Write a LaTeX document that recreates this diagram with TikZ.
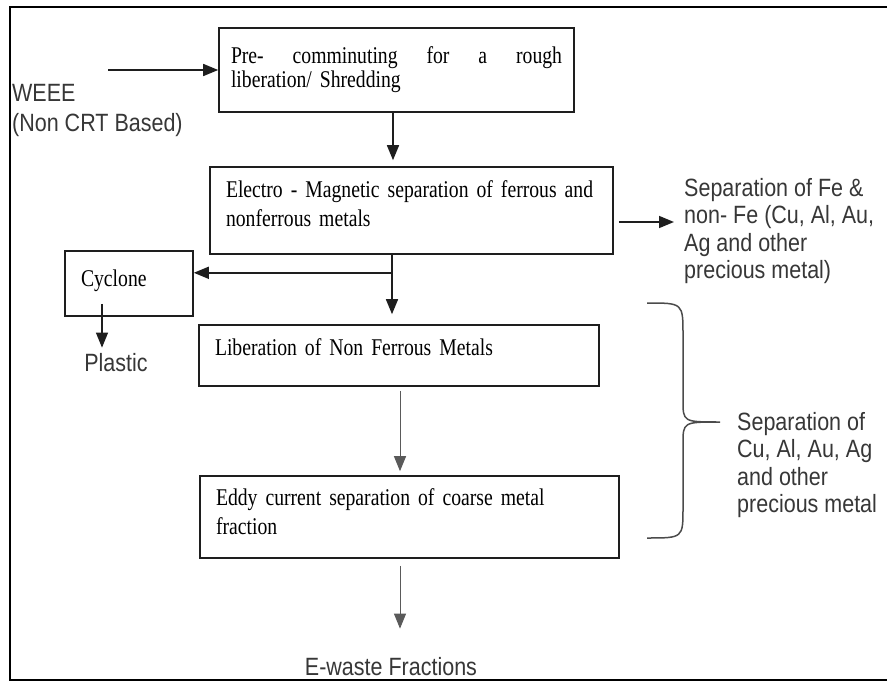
\documentclass[tikz,border=0pt]{standalone}
\usepackage{fontspec}
\setmainfont[FakeStretch=0.82]{Liberation Serif}
\setsansfont[FakeStretch=0.86]{Liberation Sans}
\usepackage{xcolor}
\definecolor{lineGray}{RGB}{30, 30, 30}
\definecolor{textGray}{RGB}{55, 55, 55}
\definecolor{thinGray}{RGB}{90, 90, 90}
\usetikzlibrary{arrows.meta, positioning, calc}
\tikzset{
    procBox/.style={draw=lineGray, line width=1.6pt, align=left, inner xsep=16pt, inner ysep=0pt, text=black,
        font=\rmfamily\fontsize{24}{29}\selectfont},
    sideText/.style={align=left, inner sep=0pt, text=textGray, font=\sffamily\fontsize{25}{27.5}\selectfont},
    arrow/.style={-{Triangle[length=15pt, width=12pt]}, line width=1.6pt, draw=lineGray},
    thinArrow/.style={arrow, line width=1pt, draw=thinGray},
    plainLine/.style={line width=1.6pt, draw=lineGray},
    braceLine/.style={line width=1.5pt, draw=lineGray!80}
}

\begin{document}
\begin{tikzpicture}[x=1pt, y=-1pt]

    \useasboundingbox (0,0) rectangle (887,682);
    \draw[line width=2pt, draw=black] (10,7) rectangle (895,680);

    % --- PROCESS BOXES ---
    \node[procBox, text width=331pt, inner xsep=12pt, minimum height=84pt,
          font=\rmfamily\fontsize{24}{24}\selectfont] (shred) at (396.5,70)
        {Pre-\hfill comminuting\hfill for\hfill a\hfill rough\\ liberation/ Shredding};
    \node[procBox, text width=371pt, minimum height=87pt, text depth=42pt] (magSep) at (411.5,210.5)
        {Electro - Magnetic separation of ferrous and\\ nonferrous metals};
    \node[procBox, text width=96pt, minimum height=65pt, text depth=10pt] (cyclone) at (129,283.5) {Cyclone};
    \node[procBox, text width=368pt, minimum height=61pt, text depth=17pt] (libNF) at (399,355.5)
        {Liberation of Non Ferrous Metals};
    \node[procBox, text width=387pt, minimum height=82pt, text depth=40pt] (eddy) at (409.5,517)
        {Eddy current separation of coarse metal\\ fraction};

    % --- SIDE TEXTS ---
    \node[sideText, anchor=west, font=\sffamily\fontsize{25}{30}\selectfont] (weee) at (12,110) {WEEE\\ (Non CRT Based)};
    \node[sideText, anchor=west] (feText) at (684,231) {Separation of Fe \&\\ non- Fe (Cu, Al, Au,\\ Ag and other\\ precious metal)};
    \node[sideText] (plastic) at (116,363) {Plastic};
    \node[sideText, anchor=west] (cuText) at (737,465) {Separation of\\ Cu, Al, Au, Ag\\ and other\\ precious metal};
    \node[sideText] (eWaste) at (391,667) {E-waste Fractions};

    % --- CONNECTIONS ---
    \coordinate (weeeIn) at (108,70);
    \draw[arrow] (weeeIn) -- (shred.west);
    \draw[arrow, shorten >=6pt] ([xshift=-3.5pt]shred.south) -- ([xshift=-3.5pt]shred.south |- magSep.north);
    \draw[arrow, shorten <=5pt, shorten >=10pt] ([yshift=-11.5pt]magSep.east) -- ([yshift=-11.5pt]magSep.east -| feText.west);

    \coordinate (split) at ([xshift=-19.5pt, yshift=-18pt]magSep.south);
    \draw[plainLine] ([xshift=-19.5pt]magSep.south) -- (split);
    \draw[arrow] (split) -- (split -| cyclone.east);
    \draw[arrow, shorten >=10pt] (split) -- (split |- libNF.north);

    \draw[arrow, line width=1.2pt, shorten >=6pt] ([xshift=-27pt, yshift=13pt]cyclone.south) -- ([xshift=-27pt]cyclone.south |- plastic.north);

    \draw[thinArrow, shorten <=4pt, shorten >=4pt] ([xshift=1pt]libNF.south) -- ([xshift=1pt]libNF.south |- eddy.north);
    \draw[thinArrow, shorten <=7pt, shorten >=29pt] ([xshift=-9.5pt]eddy.south) -- ([xshift=-9.5pt]eddy.south |- eWaste.north);

    % Brace
    \draw[braceLine] (647,303) .. controls (683,303) .. (683,335) -- (683,400)
        .. controls (683,422) .. (720,422) .. controls (683,422) .. (683,444)
        -- (683,508) .. controls (683,538) .. (647,538);

\end{tikzpicture}
\end{document}
